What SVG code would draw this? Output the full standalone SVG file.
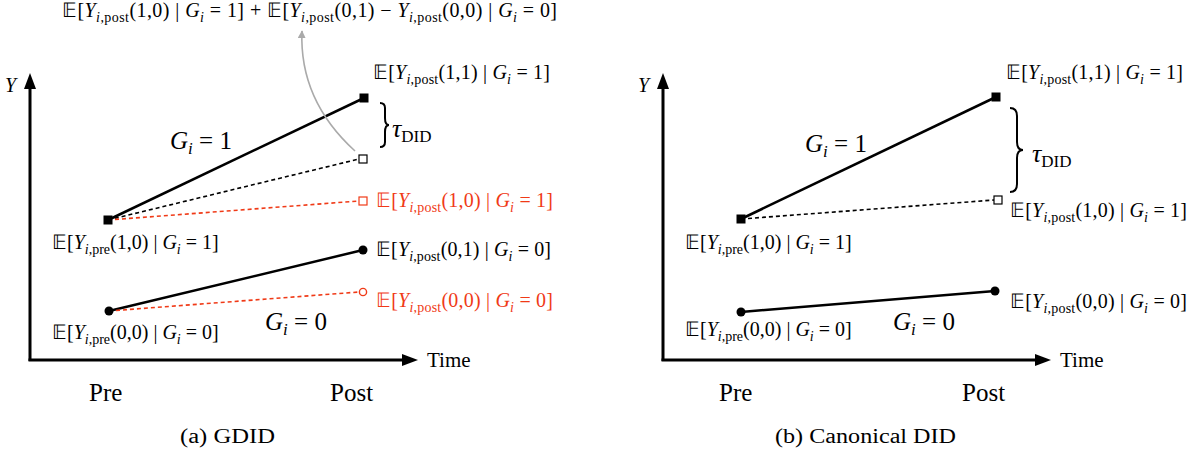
<svg xmlns="http://www.w3.org/2000/svg" width="1200" height="459" viewBox="0 0 1200 459">
<style>
.t{font-family:"Liberation Serif","Times New Roman",serif;font-size:20px;fill:#000}
.big{font-size:25px}
.cap{font-size:20px}
.i{font-style:italic}
.s{font-size:14px}
.red{fill:#f03a17}
.ax{stroke:#000;stroke-width:3;fill:none}
.solid{stroke:#000;stroke-width:2.5;fill:none}
.dk{stroke:#000;stroke-width:1.6;stroke-dasharray:4 3;fill:none}
.dr{stroke:#f03a17;stroke-width:1.6;stroke-dasharray:4 3;fill:none}
.brace{stroke:#000;stroke-width:2;fill:none}
</style>
<defs>
<marker id="ga" viewBox="0 0 10 10" refX="9" refY="5" markerWidth="8" markerHeight="8" orient="auto" markerUnits="userSpaceOnUse"><path d="M0,0 L10,5 L0,10 z" fill="#aaa"/></marker>
</defs>

<!-- ===== Panel (a) ===== -->
<g id="a-axes">
<line class="ax" x1="30" y1="86" x2="30" y2="361"/>
<polygon points="30,73 24,89 36,89" fill="#000"/>
<line class="ax" x1="28.5" y1="360" x2="404" y2="360"/>
<polygon points="418,360 402,354 402,366" fill="#000"/>
<text class="t i" x="5" y="92">Y</text>
<text class="t" x="427" y="367" style="font-size:21px">Time</text>
<text class="t big" x="89" y="401">Pre</text>
<text class="t big" x="330" y="401">Post</text>
<text class="t cap" x="180" y="443" textLength="95" lengthAdjust="spacingAndGlyphs">(a) GDID</text>
</g>

<g id="a-connectors">
<line class="solid" x1="108" y1="220" x2="364" y2="98"/>
<line class="dk" x1="108" y1="220" x2="359" y2="159"/>
<line class="dr" x1="108" y1="220" x2="359" y2="201"/>
<line class="solid" x1="109" y1="311" x2="363" y2="250"/>
<line class="dr" x1="109" y1="311" x2="359" y2="292"/>
<path d="M355,151 Q299,100 302,31" stroke="#aaa" stroke-width="1.6" fill="none" marker-end="url(#ga)"/>
<path class="brace" d="M380,103 q5,0 5,5 v10 q0,7 4,7 q-4,0 -4,7 v10 q0,5 -5,5"/>
</g>

<g id="a-pre-treated">
<rect x="103.5" y="215.5" width="9" height="9" fill="#000"/>
<text class="t" x="52" y="249">𝔼[<tspan class="i">Y</tspan><tspan class="s" dy="5"><tspan class="i">i</tspan>,pre</tspan><tspan dy="-5">(1,0) | </tspan><tspan class="i">G</tspan><tspan class="s i" dy="5">i</tspan><tspan dy="-5"> = 1]</tspan></text>
</g>
<g id="a-pre-control">
<circle cx="109" cy="311" r="4.5" fill="#000"/>
<text class="t" x="52" y="339">𝔼[<tspan class="i">Y</tspan><tspan class="s" dy="5"><tspan class="i">i</tspan>,pre</tspan><tspan dy="-5">(0,0) | </tspan><tspan class="i">G</tspan><tspan class="s i" dy="5">i</tspan><tspan dy="-5"> = 0]</tspan></text>
</g>
<g id="a-post-11">
<rect x="359.5" y="93.5" width="9" height="9" fill="#000"/>
<text class="t" x="373" y="79" textLength="177" lengthAdjust="spacing">𝔼[<tspan class="i">Y</tspan><tspan class="s" dy="5"><tspan class="i">i</tspan>,post</tspan><tspan dy="-5">(1,1) | </tspan><tspan class="i">G</tspan><tspan class="s i" dy="5">i</tspan><tspan dy="-5"> = 1]</tspan></text>
</g>
<g id="a-counterfactual">
<rect x="359" y="155" width="8" height="8" fill="#fff" stroke="#000" stroke-width="1.2"/>
</g>
<g id="a-tau">
<text class="t" x="392" y="137" style="font-size:26px"><tspan class="i">τ</tspan><tspan style="font-size:17px" dy="5">DID</tspan></text>
</g>
<g id="a-top-formula">
<text class="t" x="62" y="17" textLength="495" lengthAdjust="spacing">𝔼[<tspan class="i">Y</tspan><tspan class="s" dy="5"><tspan class="i">i</tspan>,post</tspan><tspan dy="-5">(1,0) | </tspan><tspan class="i">G</tspan><tspan class="s i" dy="5">i</tspan><tspan dy="-5"> = 1] + 𝔼[</tspan><tspan class="i">Y</tspan><tspan class="s" dy="5"><tspan class="i">i</tspan>,post</tspan><tspan dy="-5">(0,1) − </tspan><tspan class="i">Y</tspan><tspan class="s" dy="5"><tspan class="i">i</tspan>,post</tspan><tspan dy="-5">(0,0) | </tspan><tspan class="i">G</tspan><tspan class="s i" dy="5">i</tspan><tspan dy="-5"> = 0]</tspan></text>
</g>
<g id="a-post-10-red">
<rect x="359" y="197" width="8" height="8" fill="#fff" stroke="#f03a17" stroke-width="1.2"/>
<text class="t red" x="376" y="207" textLength="177" lengthAdjust="spacing">𝔼[<tspan class="i">Y</tspan><tspan class="s" dy="5"><tspan class="i">i</tspan>,post</tspan><tspan dy="-5">(1,0) | </tspan><tspan class="i">G</tspan><tspan class="s i" dy="5">i</tspan><tspan dy="-5"> = 1]</tspan></text>
</g>
<g id="a-post-01">
<circle cx="363" cy="250" r="4.5" fill="#000"/>
<text class="t" x="376" y="256" textLength="175" lengthAdjust="spacing">𝔼[<tspan class="i">Y</tspan><tspan class="s" dy="5"><tspan class="i">i</tspan>,post</tspan><tspan dy="-5">(0,1) | </tspan><tspan class="i">G</tspan><tspan class="s i" dy="5">i</tspan><tspan dy="-5"> = 0]</tspan></text>
</g>
<g id="a-post-00-red">
<circle cx="363" cy="292" r="3.6" fill="#fff" stroke="#f03a17" stroke-width="1.4"/>
<text class="t red" x="376" y="307" textLength="177" lengthAdjust="spacing">𝔼[<tspan class="i">Y</tspan><tspan class="s" dy="5"><tspan class="i">i</tspan>,post</tspan><tspan dy="-5">(0,0) | </tspan><tspan class="i">G</tspan><tspan class="s i" dy="5">i</tspan><tspan dy="-5"> = 0]</tspan></text>
</g>
<g id="a-group-labels">
<text class="t big" x="170" y="149"><tspan class="i">G</tspan><tspan class="i" style="font-size:17px" dy="5">i</tspan><tspan dy="-5"> = 1</tspan></text>
<text class="t big" x="265" y="330"><tspan class="i">G</tspan><tspan class="i" style="font-size:17px" dy="5">i</tspan><tspan dy="-5"> = 0</tspan></text>
</g>

<!-- ===== Panel (b) ===== -->
<g id="b-axes">
<line class="ax" x1="663" y1="86" x2="663" y2="361"/>
<polygon points="663,73 657,89 669,89" fill="#000"/>
<line class="ax" x1="661.5" y1="360" x2="1037" y2="360"/>
<polygon points="1051,360 1035,354 1035,366" fill="#000"/>
<text class="t i" x="638" y="92">Y</text>
<text class="t" x="1060" y="367" style="font-size:21px">Time</text>
<text class="t big" x="719" y="401">Pre</text>
<text class="t big" x="962" y="401">Post</text>
<text class="t cap" x="775" y="443" textLength="181" lengthAdjust="spacingAndGlyphs">(b) Canonical DID</text>
</g>

<g id="b-connectors">
<line class="solid" x1="741" y1="219" x2="996" y2="97"/>
<line class="dk" x1="741" y1="219" x2="994" y2="200"/>
<line class="solid" x1="741" y1="312" x2="995" y2="291"/>
<path class="brace" d="M1010,108 q7,0 7,8 v26 q0,8 6,8 q-6,0 -6,8 v26 q0,8 -7,8"/>
</g>

<g id="b-pre-treated">
<rect x="736.5" y="214.5" width="9" height="9" fill="#000"/>
<text class="t" x="685" y="249">𝔼[<tspan class="i">Y</tspan><tspan class="s" dy="5"><tspan class="i">i</tspan>,pre</tspan><tspan dy="-5">(1,0) | </tspan><tspan class="i">G</tspan><tspan class="s i" dy="5">i</tspan><tspan dy="-5"> = 1]</tspan></text>
</g>
<g id="b-pre-control">
<circle cx="741" cy="312" r="4.5" fill="#000"/>
<text class="t" x="685" y="336">𝔼[<tspan class="i">Y</tspan><tspan class="s" dy="5"><tspan class="i">i</tspan>,pre</tspan><tspan dy="-5">(0,0) | </tspan><tspan class="i">G</tspan><tspan class="s i" dy="5">i</tspan><tspan dy="-5"> = 0]</tspan></text>
</g>
<g id="b-post-11">
<rect x="991.5" y="92.5" width="9" height="9" fill="#000"/>
<text class="t" x="1006" y="79" textLength="177" lengthAdjust="spacing">𝔼[<tspan class="i">Y</tspan><tspan class="s" dy="5"><tspan class="i">i</tspan>,post</tspan><tspan dy="-5">(1,1) | </tspan><tspan class="i">G</tspan><tspan class="s i" dy="5">i</tspan><tspan dy="-5"> = 1]</tspan></text>
</g>
<g id="b-post-10">
<rect x="994" y="196" width="8" height="8" fill="#fff" stroke="#000" stroke-width="1.2"/>
<text class="t" x="1010" y="217" textLength="177" lengthAdjust="spacing">𝔼[<tspan class="i">Y</tspan><tspan class="s" dy="5"><tspan class="i">i</tspan>,post</tspan><tspan dy="-5">(1,0) | </tspan><tspan class="i">G</tspan><tspan class="s i" dy="5">i</tspan><tspan dy="-5"> = 1]</tspan></text>
</g>
<g id="b-post-00">
<circle cx="995" cy="291" r="4.5" fill="#000"/>
<text class="t" x="1010" y="308" textLength="177" lengthAdjust="spacing">𝔼[<tspan class="i">Y</tspan><tspan class="s" dy="5"><tspan class="i">i</tspan>,post</tspan><tspan dy="-5">(0,0) | </tspan><tspan class="i">G</tspan><tspan class="s i" dy="5">i</tspan><tspan dy="-5"> = 0]</tspan></text>
</g>
<g id="b-tau">
<text class="t" x="1032" y="162" style="font-size:26px"><tspan class="i">τ</tspan><tspan style="font-size:17px" dy="5">DID</tspan></text>
</g>
<g id="b-group-labels">
<text class="t big" x="805" y="152"><tspan class="i">G</tspan><tspan class="i" style="font-size:17px" dy="5">i</tspan><tspan dy="-5"> = 1</tspan></text>
<text class="t big" x="893" y="330"><tspan class="i">G</tspan><tspan class="i" style="font-size:17px" dy="5">i</tspan><tspan dy="-5"> = 0</tspan></text>
</g>
</svg>
